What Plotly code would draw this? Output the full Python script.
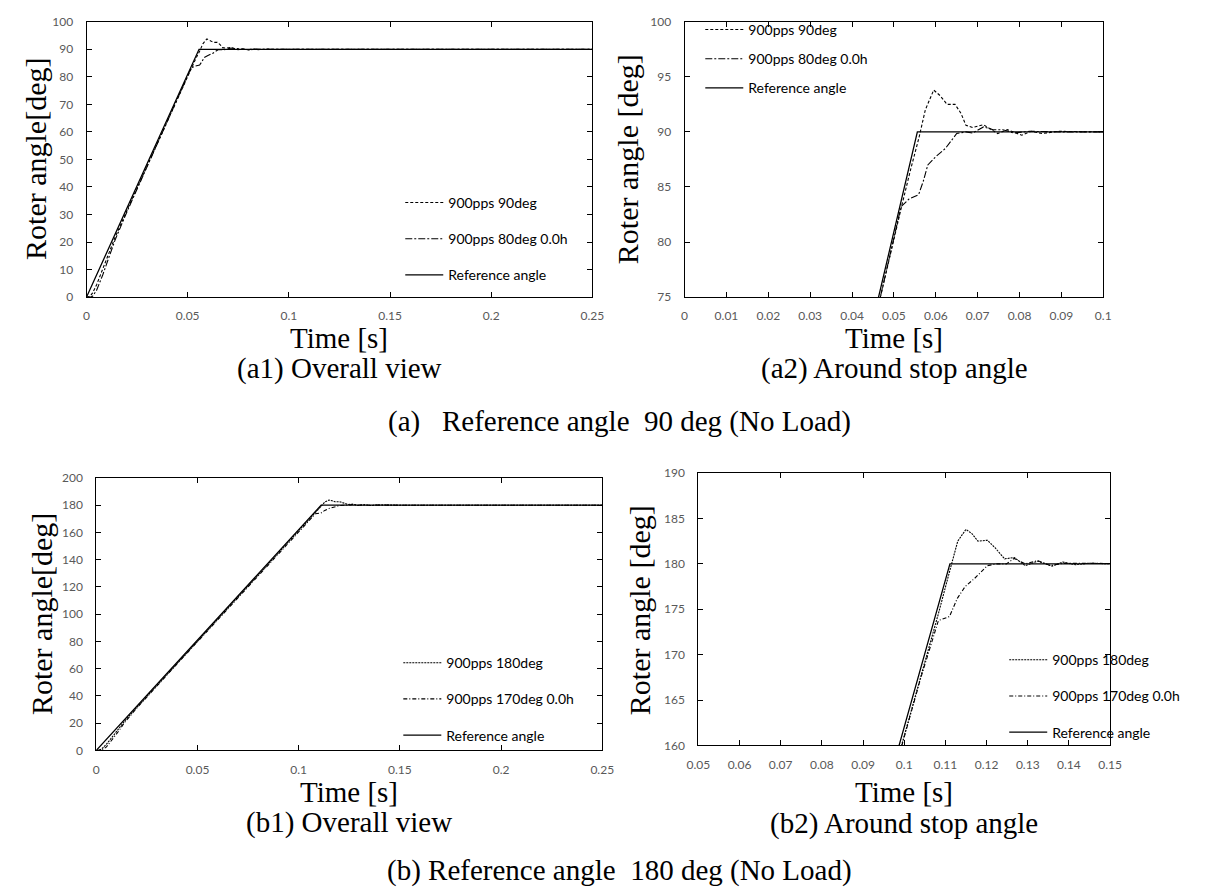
import plotly.graph_objects as go

W, H = 1228, 893

# ---------------- data: 90 deg reference (No Load) ----------------
t_ref90 = [0, 0.0556, 0.25]
ang_ref90 = [0, 90, 90]

t_90 = [0, 0.001, 0.002, 0.003, 0.005, 0.008, 0.011, 0.014, 0.02, 0.03, 0.04, 0.046,
        0.05, 0.052, 0.054, 0.056, 0.0575, 0.0595, 0.061, 0.0627, 0.0646, 0.066, 0.0672,
        0.0688, 0.0714, 0.0735, 0.0748, 0.0771, 0.079, 0.0805, 0.0828, 0.0854, 0.0892,
        0.095, 0.1, 0.25]
ang_90 = [0, 0.1, 0.5, 1.5, 4.5, 10, 16, 21.5, 31.5, 47.8, 64, 73.8,
          80.4, 83.5, 86.6, 89.5, 92.0, 93.8, 93.3, 92.5, 92.5, 91.7, 90.6,
          90.4, 90.65, 90.2, 89.85, 90.2, 89.95, 89.7, 90.05, 89.85, 90.05,
          90.0, 90.0, 90.0]

t_80 = [0, 0.002, 0.003, 0.005, 0.008, 0.011, 0.014, 0.02, 0.03, 0.04, 0.046, 0.05,
        0.0517, 0.0536, 0.0559, 0.057, 0.0581, 0.06, 0.0623, 0.065, 0.0672, 0.0688,
        0.0714, 0.0737, 0.076, 0.0786, 0.0824, 0.09, 0.1, 0.25]
ang_80 = [0, 0, 0.3, 2.5, 8, 14, 20.5, 31, 47.5, 63.8, 73.6, 80.2,
          83.2, 83.9, 84.3, 85.5, 87, 87.75, 88.5, 89.85, 90, 89.9,
          90.45, 90.2, 90.2, 89.9, 90.05, 90, 90, 90]

# ---------------- data: 180 deg reference (No Load) ----------------
t_ref180 = [0, 0.1111, 0.25]
ang_ref180 = [0, 180, 180]

t_180 = [0, 0.001, 0.002, 0.003, 0.005, 0.008, 0.011, 0.014, 0.02, 0.04, 0.06, 0.08,
         0.095, 0.0988, 0.104, 0.1083, 0.1111, 0.113, 0.115, 0.1165, 0.1179, 0.1202,
         0.122, 0.1244, 0.1267, 0.1294, 0.1324, 0.1359, 0.1385, 0.1416, 0.1447, 0.15, 0.25]
ang_180 = [0, 0.1, 0.5, 1.5, 4.5, 10, 16, 21.5, 31.5, 63.8, 96.2, 128.6,
           152.9, 159.1, 167.6, 174.5, 179.3, 182.5, 183.8, 183.3, 182.5, 182.6,
           181.8, 180.55, 180.7, 179.8, 180.3, 179.75, 180.2, 179.9, 180.07, 180, 180]

t_170 = [0, 0.002, 0.003, 0.005, 0.008, 0.011, 0.014, 0.02, 0.04, 0.06, 0.08, 0.095,
         0.0988, 0.104, 0.1083, 0.111, 0.1129, 0.1148, 0.1171, 0.1202, 0.1225, 0.1248,
         0.1267, 0.1294, 0.1324, 0.1355, 0.1385, 0.145, 0.15, 0.25]
ang_170 = [0, 0, 0.3, 2.5, 8, 14, 20.5, 31, 63.6, 96, 128.4, 152.7,
           158.9, 167.4, 173.75, 174.2, 176.2, 177.5, 178.4, 179.8, 180, 180,
           180.6, 180, 180.35, 179.8, 180.05, 180, 180, 180]

names_a = ["900pps 90deg", "900pps 80deg 0.0h", "Reference angle"]
names_b = ["900pps 180deg", "900pps 170deg 0.0h", "Reference angle"]

b2_top_ticks = [0.07, 0.09, 0.11, 0.13]


def px(p):
    return p / W


def py(p):
    return 1 - p / H


SERIF = "Liberation Serif, Times New Roman, serif"
SANS = "Lato, Noto Sans, sans-serif"

fig = go.Figure()

panels = [
    dict(ax="", leg="legend", data=[(t_90, ang_90), (t_80, ang_80), (t_ref90, ang_ref90)],
         names=names_a, dashes=["3px,2px", "7px,2px,2px,2px", "solid"]),
    dict(ax="2", leg="legend2", data=[(t_90, ang_90), (t_80, ang_80), (t_ref90, ang_ref90)],
         names=names_a, dashes=["3px,2px", "7px,2px,2px,2px", "solid"]),
    dict(ax="3", leg="legend3", data=[(t_180, ang_180), (t_170, ang_170), (t_ref180, ang_ref180)],
         names=names_b, dashes=["2px,1px", "4px,2px,1px,2px", "solid"]),
    dict(ax="4", leg="legend4", data=[(t_180, ang_180), (t_170, ang_170), (t_ref180, ang_ref180)],
         names=names_b, dashes=["2px,1px", "4px,2px,1px,2px", "solid"]),
]

for p in panels:
    for i, ((tx, ty), nm, ds) in enumerate(zip(p["data"], p["names"], p["dashes"])):
        fig.add_trace(go.Scatter(
            x=tx, y=ty, mode="lines", name=nm,
            line=dict(color="black", width=1.3 if ds == "solid" else 1.1, dash=ds),
            xaxis="x" + p["ax"], yaxis="y" + p["ax"],
            legend=p["leg"], legendgroup=p["leg"] + str(i),
            hoverinfo="skip",
        ))

# invisible trace for extra top tick axis of (b2)
fig.add_trace(go.Scatter(x=[0.05], y=[160], mode="lines", xaxis="x5", yaxis="y4",
                         showlegend=False, hoverinfo="skip", line=dict(width=0)))

tickfont = dict(family=SANS, size=12, color="#595959")
base = dict(showgrid=False, zeroline=False, showline=True, linecolor="black", linewidth=1,
            ticks="inside", ticklen=5, tickcolor="black", tickwidth=1, tickfont=tickfont,
            mirror="ticks")

dom = {
    "": ([76, 592], [14, 294]),
    "2": ([686, 1113], [14, 294]),
    "3": ([86, 602], [478, 755]),
    "4": ([700, 1120], [473, 750]),
}
xr = {"": ([0, 0.25], 0.05), "2": ([0, 0.1], 0.01), "3": ([0, 0.25], 0.05), "4": ([0.05, 0.15], 0.01)}
yr = {"": ([0, 100], 10), "2": ([75, 100], 5), "3": ([0, 200], 20), "4": ([160, 190], 5)}

for k, ((x0, x1), (y0, y1)) in dom.items():
    xa = dict(base, domain=[px(x0), px(x1)], range=xr[k][0], dtick=xr[k][1], tick0=0,
              anchor="y" + k, ticklabelstandoff=8)
    ya = dict(base, domain=[py(y1), py(y0)], range=yr[k][0], dtick=yr[k][1], tick0=0,
              anchor="x" + k, ticklabelstandoff=10)
    if k == "4":
        xa["mirror"] = True
    fig.layout["xaxis" + k] = xa
    fig.layout["yaxis" + k] = ya

fig.layout["xaxis5"] = dict(overlaying="x4", side="top", anchor="y4", range=xr["4"][0],
                            tickvals=b2_top_ticks, ticks="inside", ticklen=5, tickcolor="black",
                            showticklabels=False, showgrid=False, zeroline=False, showline=False)

legfont = dict(family=SANS, size=14, color="black")


def legend_at(x, y, gap):
    return dict(x=px(x), y=py(y), xanchor="left", yanchor="top", bgcolor="rgba(0,0,0,0)",
                font=legfont, tracegroupgap=gap, traceorder="grouped", itemwidth=38,
                borderwidth=0)


fig.update_layout(
    width=W, height=H, margin=dict(l=0, r=0, t=0, b=0),
    paper_bgcolor="white", plot_bgcolor="white",
    legend=legend_at(396, 182, 15),
    legend2=legend_at(702, 6, 8),
    legend3=legend_at(394, 650, 15),
    legend4=legend_at(1012, 647, 15),
)

ann = []


def text(x, y, s, size, angle=0):
    ann.append(dict(x=px(x), y=py(y), xref="paper", yref="paper", text=s, showarrow=False,
                    font=dict(family=SERIF, size=size, color="black"), textangle=angle,
                    xanchor="center", yanchor="middle"))


# y titles
text(24, 154, "Roter angle[deg]", 30, -90)
text(628, 154, "Roter angle [deg]", 30, -90)
text(30, 616, "Roter angle[deg]", 30, -90)
text(640, 612, "Roter angle [deg]", 30, -90)
# x titles and captions
text(334, 336, "Time [s]", 29)
text(334, 367, "(a1) Overall view", 29)
text(900, 336, "Time [s]", 29)
text(900, 367, "(a2) Around stop angle", 29)
text(620, 421, "(a)\u00a0\u00a0\u00a0Reference angle\u00a0\u00a090 deg (No Load)", 29)
text(344, 797, "Time [s]", 29)
text(344, 828, "(b1) Overall view", 29)
text(910, 797, "Time [s]", 29)
text(910, 829, "(b2) Around stop angle", 29)
text(620, 877, "(b) Reference angle\u00a0\u00a0180 deg (No Load)", 29)

fig.update_layout(annotations=ann)

fig.write_html("out.html")
